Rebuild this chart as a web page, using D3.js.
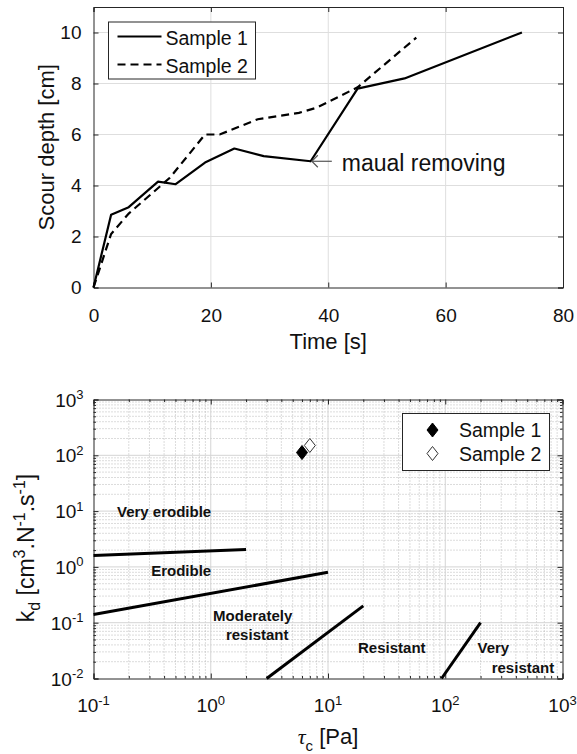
<!DOCTYPE html>
<html><head><meta charset="utf-8">
<script src="https://cdn.jsdelivr.net/npm/d3@7"></script>
<style>
body{margin:0;background:#fff;}
svg{display:block;font-family:"Liberation Sans",Arial,Helvetica,sans-serif;}
</style></head>
<body><svg id="c" width="577" height="754"></svg>
<script>
// ---------- data: top chart ----------
const time1 = [0, 3, 6, 11, 14, 19, 24, 29, 37, 45, 53, 73];
const depth1 = [0, 2.85, 3.15, 4.15, 4.05, 4.9, 5.45, 5.15, 4.95, 7.8, 8.2, 10];
const time2 = [0, 3, 6, 13, 19, 21.5, 28, 35, 38, 45, 55];
const depth2 = [0, 2.1, 2.9, 4.3, 6.0, 6.0, 6.6, 6.85, 7.05, 7.85, 9.8];
const seriesNames = ["Sample 1", "Sample 2"];
const timeTicks = [0, 20, 40, 60, 80];
const depthTicks = [0, 2, 4, 6, 8, 10];
const annotText = "maual removing";
const annotPoint = [37.2, 4.95];   // arrow tip (time, depth)

// ---------- data: bottom chart ----------
const tauC = [6.0, 7.0];
const kd = [112, 150];
const decadeTicks = [-2, -1, 0, 1, 2, 3];
const tauTicks = [-1, 0, 1, 2, 3];
const boundaryTau = [[0.1, 2], [0.1, 10], [3, 20], [93, 200]];
const boundaryKd = [[1.6, 2.05], [0.14, 0.8], [0.01, 0.2], [0.01, 0.1]];
const regionNames = ["Very erodible", "Erodible", "Moderately", "resistant", "Resistant", "Very", "resistant"];
const regionTau = [0.4, 0.56, 2.28, 2.49, 35, 257, 460];
const regionKd = [7.8, 0.70, 0.109, 0.049, 0.0289, 0.0283, 0.0123];

const svg = d3.select("#c");
const axisCol = "#262626";

// ================= TOP CHART =================
const T = {l: 93.5, r: 563, t: 7, b: 287.5};
const x1 = d3.scaleLinear().domain([0, 80]).range([T.l, T.r]);
const y1 = d3.scaleLinear().domain([0, 11]).range([T.b, T.t]);
const g1 = svg.append("g");

// grid
g1.selectAll(".gx").data(timeTicks.slice(1, -1)).enter().append("line")
  .attr("x1", d => x1(d)).attr("x2", d => x1(d)).attr("y1", T.t).attr("y2", T.b)
  .attr("stroke", "#dedede").attr("stroke-width", 1);
g1.selectAll(".gy").data(depthTicks.slice(1)).enter().append("line")
  .attr("x1", T.l).attr("x2", T.r).attr("y1", d => y1(d)).attr("y2", d => y1(d))
  .attr("stroke", "#dedede").attr("stroke-width", 1);

// axes with d3 (ticks inward)
g1.append("g").attr("transform", `translate(0,${T.b})`)
  .call(d3.axisBottom(x1).tickValues(timeTicks).tickSize(-5).tickPadding(21).tickFormat(d3.format("d")))
  .call(a => { a.select(".domain").attr("stroke", axisCol); a.selectAll("line").attr("stroke", axisCol);
    a.selectAll("text").attr("font-size", 19).attr("fill", "#111").attr("font-family", "Liberation Sans, Arial"); });
g1.append("g").attr("transform", `translate(${T.l},0)`)
  .call(d3.axisLeft(y1).tickValues(depthTicks).tickSize(-5).tickPadding(12).tickFormat(d3.format("d")))
  .call(a => { a.select(".domain").attr("stroke", axisCol); a.selectAll("line").attr("stroke", axisCol);
    a.selectAll("text").attr("font-size", 19).attr("fill", "#111").attr("font-family", "Liberation Sans, Arial"); });
g1.append("g").attr("transform", `translate(0,${T.t})`)
  .call(d3.axisTop(x1).tickValues(timeTicks).tickSize(-5).tickFormat(""))
  .call(a => { a.select(".domain").attr("stroke", axisCol); a.selectAll("line").attr("stroke", axisCol); });
g1.append("g").attr("transform", `translate(${T.r},0)`)
  .call(d3.axisRight(y1).tickValues(depthTicks).tickSize(-5).tickFormat(""))
  .call(a => { a.select(".domain").attr("stroke", axisCol); a.selectAll("line").attr("stroke", axisCol); });

// lines
const line1 = d3.line().x(d => x1(d[0])).y(d => y1(d[1]));
g1.append("path").datum(time1.map((t, i) => [t, depth1[i]])).attr("d", line1)
  .attr("fill", "none").attr("stroke", "#000").attr("stroke-width", 2.2).attr("stroke-linejoin", "round");
g1.append("path").datum(time2.map((t, i) => [t, depth2[i]])).attr("d", line1)
  .attr("fill", "none").attr("stroke", "#000").attr("stroke-width", 2.2).attr("stroke-dasharray", "8,5");

// annotation
const ax0 = x1(annotPoint[0]), ay0 = y1(annotPoint[1]);
g1.append("line").attr("x1", ax0).attr("x2", ax0 + 20).attr("y1", ay0).attr("y2", ay0)
  .attr("stroke", "#555").attr("stroke-width", 1.2);
g1.append("path").attr("d", `M${ax0 + 6},${ay0 - 6}L${ax0},${ay0}L${ax0 + 6},${ay0 + 6}`)
  .attr("fill", "none").attr("stroke", "#555").attr("stroke-width", 1.2);
g1.append("text").attr("x", ax0 + 30).attr("y", ay0 + 10).attr("font-size", 23).attr("fill", "#111")
  .text(annotText);

// legend
const L1 = {x: 108.5, y: 22, w: 147, h: 57};
g1.append("rect").attr("x", L1.x).attr("y", L1.y).attr("width", L1.w).attr("height", L1.h)
  .attr("fill", "#fff").attr("stroke", axisCol).attr("stroke-width", 1);
seriesNames.forEach((n, i) => {
  const yy = L1.y + 14.5 + i * 28;
  g1.append("line").attr("x1", L1.x + 9).attr("x2", L1.x + 53).attr("y1", yy).attr("y2", yy)
    .attr("stroke", "#000").attr("stroke-width", 2.2).attr("stroke-dasharray", i ? "8,5" : null);
  g1.append("text").attr("x", L1.x + 57).attr("y", yy + 8).attr("font-size", 19.5).attr("fill", "#111").text(n);
});

// axis titles
g1.append("text").attr("x", (T.l + T.r) / 2).attr("y", 349).attr("text-anchor", "middle")
  .attr("font-size", 22).attr("fill", "#111").text("Time [s]");
g1.append("text").attr("transform", `translate(54,${(T.t + T.b) / 2}) rotate(-90)`).attr("text-anchor", "middle")
  .attr("font-size", 22).attr("fill", "#111").text("Scour depth [cm]");

// ================= BOTTOM CHART =================
const B = {l: 93.5, r: 562.5, t: 399.5, b: 678.5};
const x2 = d3.scaleLog().domain([0.1, 1000]).range([B.l, B.r]);
const y2 = d3.scaleLog().domain([0.01, 1000]).range([B.b, B.t]);
const g2 = svg.append("g");

const minorX = [], minorY = [];
tauTicks.slice(0, -1).forEach(e => { for (let k = 2; k <= 9; k++) minorX.push(k * Math.pow(10, e)); });
decadeTicks.slice(0, -1).forEach(e => { for (let k = 2; k <= 9; k++) minorY.push(k * Math.pow(10, e)); });

// minor grid (dotted)
g2.selectAll(".mgx").data(minorX).enter().append("line")
  .attr("x1", d => x2(d)).attr("x2", d => x2(d)).attr("y1", B.t).attr("y2", B.b)
  .attr("stroke", "#b8b8b8").attr("stroke-width", 1).attr("stroke-dasharray", "1,2");
g2.selectAll(".mgy").data(minorY).enter().append("line")
  .attr("x1", B.l).attr("x2", B.r).attr("y1", d => y2(d)).attr("y2", d => y2(d))
  .attr("stroke", "#b8b8b8").attr("stroke-width", 1).attr("stroke-dasharray", "1,2");
// major grid
g2.selectAll(".Mgx").data(tauTicks.slice(1, -1)).enter().append("line")
  .attr("x1", d => x2(Math.pow(10, d))).attr("x2", d => x2(Math.pow(10, d))).attr("y1", B.t).attr("y2", B.b)
  .attr("stroke", "#d4d4d4").attr("stroke-width", 1);
g2.selectAll(".Mgy").data(decadeTicks.slice(1, -1)).enter().append("line")
  .attr("x1", B.l).attr("x2", B.r).attr("y1", d => y2(Math.pow(10, d))).attr("y2", d => y2(Math.pow(10, d)))
  .attr("stroke", "#d4d4d4").attr("stroke-width", 1);

// frame + ticks
const majX = tauTicks.map(e => Math.pow(10, e)), majY = decadeTicks.map(e => Math.pow(10, e));
function frameAxis(gen, scale, major, minor, tr) {
  g2.append("g").attr("transform", tr).call(gen(scale).tickValues(major).tickSize(-5).tickFormat(""))
    .call(a => { a.select(".domain").attr("stroke", axisCol); a.selectAll("line").attr("stroke", axisCol); });
  g2.append("g").attr("transform", tr).call(gen(scale).tickValues(minor).tickSize(-2.5).tickFormat(""))
    .call(a => { a.select(".domain").remove(); a.selectAll("line").attr("stroke", axisCol); });
}
frameAxis(d3.axisBottom, x2, majX, minorX, `translate(0,${B.b})`);
frameAxis(d3.axisTop, x2, majX, minorX, `translate(0,${B.t})`);
frameAxis(d3.axisLeft, y2, majY, minorY, `translate(${B.l},0)`);
frameAxis(d3.axisRight, y2, majY, minorY, `translate(${B.r},0)`);

// tick labels with superscripts
tauTicks.forEach(e => {
  const t = g2.append("text").attr("x", x2(Math.pow(10, e))).attr("y", 712).attr("text-anchor", "middle")
    .attr("font-size", 19).attr("fill", "#111");
  t.append("tspan").text("10");
  t.append("tspan").attr("dy", -7.5).attr("font-size", 13).text(e);
});
decadeTicks.forEach(e => {
  const t = g2.append("text").attr("x", B.l - 10).attr("y", y2(Math.pow(10, e)) + 7).attr("text-anchor", "end")
    .attr("font-size", 19).attr("fill", "#111");
  t.append("tspan").text("10");
  t.append("tspan").attr("dy", -7.5).attr("font-size", 13).text(e);
});

// boundary lines
boundaryTau.forEach((bt, i) => {
  g2.append("line").attr("x1", x2(bt[0])).attr("x2", x2(bt[1]))
    .attr("y1", y2(boundaryKd[i][0])).attr("y2", y2(boundaryKd[i][1]))
    .attr("stroke", "#000").attr("stroke-width", 3);
});

// region labels
regionNames.forEach((n, i) => {
  g2.append("text").attr("x", x2(regionTau[i])).attr("y", y2(regionKd[i])).attr("text-anchor", "middle")
    .attr("font-size", 15).attr("font-weight", "bold").attr("fill", "#111").text(n);
});

// markers
function diamond(cx, cy) { return `M${cx},${cy - 7}L${cx + 5.5},${cy}L${cx},${cy + 7}L${cx - 5.5},${cy}Z`; }
tauC.forEach((t, i) => {
  g2.append("path").attr("d", diamond(x2(t), y2(kd[i])))
    .attr("fill", i ? "#fff" : "#000").attr("stroke", i ? "#333" : "#000").attr("stroke-width", 1);
});

// legend
const L2 = {x: 402.5, y: 413.5, w: 147, h: 57};
g2.append("rect").attr("x", L2.x).attr("y", L2.y).attr("width", L2.w).attr("height", L2.h)
  .attr("fill", "#fff").attr("stroke", axisCol).attr("stroke-width", 1);
seriesNames.forEach((n, i) => {
  const yy = L2.y + 16.5 + i * 23.5;
  g2.append("path").attr("d", diamond(L2.x + 30, yy))
    .attr("fill", i ? "#fff" : "#000").attr("stroke", i ? "#333" : "#000").attr("stroke-width", 1);
  g2.append("text").attr("x", L2.x + 56.5).attr("y", yy + 7).attr("font-size", 19.5).attr("fill", "#111").text(n);
});

// axis titles
const xt = g2.append("text").attr("x", (B.l + B.r) / 2).attr("y", 744).attr("text-anchor", "middle")
  .attr("font-size", 22).attr("fill", "#111");
xt.append("tspan").attr("font-family", "Liberation Serif, serif").attr("font-style", "italic").text("τ");
xt.append("tspan").attr("dy", 7).attr("font-size", 15).text("c");
xt.append("tspan").attr("dy", -7).text(" [Pa]");

const yt = g2.append("text").attr("transform", `translate(34,${(B.t + B.b) / 2 + 9}) rotate(-90)`).attr("text-anchor", "middle")
  .attr("font-size", 23).attr("fill", "#111");
yt.append("tspan").text("k");
yt.append("tspan").attr("dy", 6).attr("font-size", 16).text("d");
yt.append("tspan").attr("dy", -6).text(" [cm");
yt.append("tspan").attr("dy", -9).attr("font-size", 16).text("3");
yt.append("tspan").attr("dy", 9).text(".N");
yt.append("tspan").attr("dy", -9).attr("font-size", 16).text("-1");
yt.append("tspan").attr("dy", 9).text(".s");
yt.append("tspan").attr("dy", -9).attr("font-size", 16).text("-1");
yt.append("tspan").attr("dy", 9).text("]");
</script></body></html>
